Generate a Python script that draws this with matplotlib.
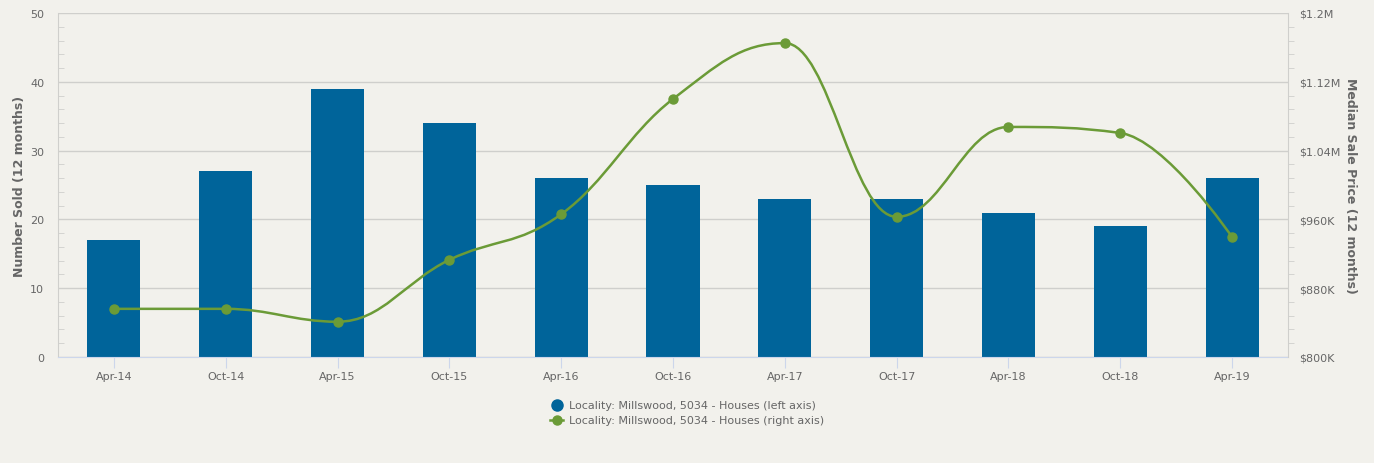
import matplotlib.pyplot as plt
import numpy as np
from matplotlib.path import Path
from matplotlib.patches import PathPatch
from matplotlib.lines import Line2D
from matplotlib.ticker import FuncFormatter, MultipleLocator

# data
periods = ['Apr-14', 'Oct-14', 'Apr-15', 'Oct-15', 'Apr-16', 'Oct-16',
           'Apr-17', 'Oct-17', 'Apr-18', 'Oct-18', 'Apr-19']
number_sold = [17, 27, 39, 34, 26, 25, 23, 23, 21, 19, 26]
median_price = [856000, 856000, 841000, 913000, 966000, 1100000,
                1165000, 963000, 1067500, 1060500, 939500]
legend_labels = ['Locality: Millswood, 5034 - Houses (left axis)',
                 'Locality: Millswood, 5034 - Houses (right axis)']

bg = '#f2f1ec'
blue = '#00649a'
green = '#6b9b37'
grid_c = '#cfcfcc'
txt = '#666666'


def spline_path(xs, ys, smoothing=1.5):
    # highcharts style spline through the points
    n = len(xs)
    denom = smoothing + 1
    lc = [None] * n
    rc = [None] * n
    for i in range(1, n - 1):
        px, py = xs[i], ys[i]
        lx, ly = xs[i - 1], ys[i - 1]
        nx, ny = xs[i + 1], ys[i + 1]
        lcx = (smoothing * px + lx) / denom
        lcy = (smoothing * py + ly) / denom
        rcx = (smoothing * px + nx) / denom
        rcy = (smoothing * py + ny) / denom
        corr = (rcy - lcy) * (rcx - px) / (rcx - lcx) + py - rcy
        lcy += corr
        rcy += corr
        if lcy > ly and lcy > py:
            lcy = max(ly, py)
            rcy = 2 * py - lcy
        elif lcy < ly and lcy < py:
            lcy = min(ly, py)
            rcy = 2 * py - lcy
        if rcy > ny and rcy > py:
            rcy = max(ny, py)
            lcy = 2 * py - rcy
        elif rcy < ny and rcy < py:
            rcy = min(ny, py)
            lcy = 2 * py - rcy
        lc[i] = (lcx, lcy)
        rc[i] = (rcx, rcy)
    verts = [(xs[0], ys[0])]
    codes = [Path.MOVETO]
    for i in range(1, n):
        c1 = rc[i - 1] if rc[i - 1] is not None else (xs[i - 1], ys[i - 1])
        c2 = lc[i] if lc[i] is not None else (xs[i], ys[i])
        verts += [c1, c2, (xs[i], ys[i])]
        codes += [Path.CURVE4] * 3
    return Path(verts, codes)


x = np.arange(len(periods))

fig = plt.figure(figsize=(13.74, 4.64), dpi=100, facecolor=bg)
ax = fig.add_axes([58 / 1374, 1 - 358 / 464, 1230 / 1374, 344 / 464])
ax.set_facecolor(bg)

ax.bar(x, number_sold, width=0.475, color=blue, zorder=2)
ax.set_xlim(-0.5, len(periods) - 0.5)
ax.set_ylim(0, 50)
ax.yaxis.set_major_locator(MultipleLocator(10))
ax.yaxis.set_minor_locator(MultipleLocator(2))
ax.grid(axis='y', color=grid_c, linewidth=1, zorder=0)
ax.set_xticks(x)
ax.set_xticklabels(periods)
ax.tick_params(axis='x', colors='#ccd6eb', labelcolor=txt, labelsize=8, length=8, pad=2)
ax.tick_params(axis='y', which='major', length=0, labelcolor=txt, labelsize=8, pad=10)
ax.tick_params(axis='y', which='minor', direction='in', length=4, color=grid_c)
for s in ['top', 'right']:
    ax.spines[s].set_visible(False)
ax.spines['left'].set_color(grid_c)
ax.spines['bottom'].set_color('#ccd6eb')
ax.set_ylabel('Number Sold (12 months)', fontsize=9, fontweight='bold', color=txt, labelpad=3)

ax2 = ax.twinx()
ax2.set_ylim(800000, 1200000)
ax2.yaxis.set_major_locator(MultipleLocator(80000))
ax2.yaxis.set_minor_locator(MultipleLocator(16000))


def money(v, pos):
    if v >= 1000000:
        return '$%gM' % round(v / 1000000, 2)
    return '$%dK' % round(v / 1000)


ax2.yaxis.set_major_formatter(FuncFormatter(money))
ax2.tick_params(axis='y', which='major', length=0, labelcolor=txt, labelsize=8, pad=8)
ax2.tick_params(axis='y', which='minor', direction='out', length=4, color=grid_c)
for s in ['top', 'left', 'bottom']:
    ax2.spines[s].set_visible(False)
ax2.spines['right'].set_color(grid_c)
ax2.set_ylabel('Median Sale Price (12 months)', fontsize=9, fontweight='bold', color=txt,
               rotation=270, labelpad=12)

path = spline_path(list(x.astype(float)), list(median_price))
ax2.add_patch(PathPatch(path, facecolor='none', edgecolor=green, linewidth=1.8, zorder=3))
ax2.plot(x, median_price, linestyle='none', marker='o', markersize=6.5, color=green, zorder=4)

handles = [Line2D([], [], linestyle='none', marker='o', markersize=8, color=blue),
           Line2D([], [], color=green, linewidth=1.8, marker='o', markersize=6.5)]
fig.legend(handles, legend_labels, loc='center', bbox_to_anchor=(0.5, 1 - 414 / 464),
           frameon=False, fontsize=8, labelcolor=txt, handlelength=1.2,
           handletextpad=0.5, labelspacing=0.45)

fig.savefig('out.png', dpi=100, facecolor=bg)
